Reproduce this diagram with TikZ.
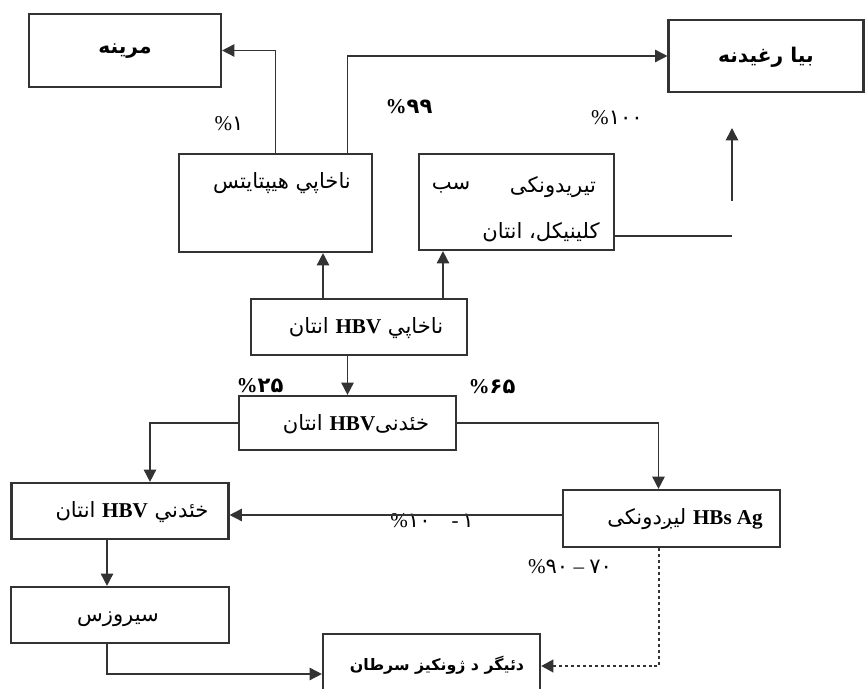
\documentclass[tikz,border=0pt]{standalone}
\usepackage{fontspec}
\setmainfont{Liberation Serif}
\newfontfamily\arabicfont[Script=Arabic]{DejaVu Sans}
\TeXXeTstate=1
\usetikzlibrary{arrows.meta}
\newcommand\upx{0.02cm}
\newcommand\pash[1]{{\arabicfont\beginR #1\endR}}
\newcommand\num[1]{{\arabicfont #1}}
\newcommand\lat[1]{{\rmfamily\bfseries #1}}

\begin{document}
\begin{tikzpicture}[x=\upx, y=-\upx,
        box/.style={draw=black!80, line width=1.2pt, inner sep=0pt},
        txt/.style={inner sep=0pt, font=\large},
        title/.style={inner sep=0pt, font=\fontsize{11.5}{13}\selectfont\bfseries},
        arr/.style={draw=black!80, line width=0.9pt, -{Triangle[length=7pt, width=7pt]}},
        link/.style={draw=black!80, line width=0.9pt},
        dots/.style={arr, line width=1.7pt, dash pattern=on 1.7pt off 1.7pt},
        pct/.style={inner sep=0pt, font=\large}
      ]
        \useasboundingbox (0,0) rectangle (867,689);

        % boxes
        \node[box, minimum width=192*\upx, minimum height=73*\upx] (mrina) at (125,50.5) {};
        \node[title] (mrinaT) at (125,51) {\pash{مرينه}};
        \node[box, minimum width=195*\upx, minimum height=72*\upx] (biya) at (766,56) {};
        \node[title] (biyaT) at (766,57) {\pash{بيا رغيدنه}};
        \node[box, minimum width=193*\upx, minimum height=98*\upx] (hep) at (275.5,203) {};
        \node[txt] (hepT) at (282,183) {\pash{ناخاپي هيپتايتس}};
        \node[box, minimum width=195*\upx, minimum height=96*\upx] (sub) at (516.5,202) {};
        \node[txt] (subA) at (553,187) {\pash{تيريدونکی}};
        \node[txt] (subB) at (451,187) {\pash{سب}};
        \node[txt] (subC) at (541,232) {\pash{کلينيکل، انتان}};
        \node[box, minimum width=216*\upx, minimum height=56*\upx] (acute) at (359,327) {};
        \node[txt] (acuteT) at (366,328) {\pash{ناخاپي \lat{HBV} انتان}};
        \node[box, minimum width=217*\upx, minimum height=54*\upx] (chron) at (347.5,423) {};
        \node[txt] (chronT) at (356,424) {\pash{خئدنی\lat{HBV} انتان}};
        \node[box, minimum width=217*\upx, minimum height=56*\upx] (chronL) at (120,511) {};
        \node[txt] (chronLT) at (132,512) {\pash{خئدني \lat{HBV} انتان}};
        \node[box, minimum width=217*\upx, minimum height=57*\upx] (carrier) at (671.5,518.5) {};
        \node[txt] (carrierT) at (685,519) {\pash{\beginL\lat{HBs Ag}\endL{} ليږدونکی}};
        \node[box, minimum width=218*\upx, minimum height=56*\upx] (cirr) at (120,615) {};
        \node[txt] (cirrT) at (118,619) {\pash{سيروزس}};
        \node[box, minimum width=217*\upx, minimum height=64*\upx] (cancer) at (431.5,666) {};
        \node[txt, font=\small\bfseries] (cancerT) at (437,665) {\pash{دئيگر د ژونکيز سرطان}};

        % percentages
        \node[pct] (p1) at (229,124) {\%\num{۱}};
        \node[pct, font=\large\bfseries] (p99) at (409,107) {\%\num{۹۹}};
        \node[pct] (p100) at (617,118) {\%\num{۱۰۰}};
        \node[pct, font=\large\bfseries] (p25) at (260,386) {\%\num{۲۵}};
        \node[pct, font=\large\bfseries] (p65) at (492,387) {\%\num{۶۵}};
        \node[pct] (p10) at (432,521) {\%\num{۱۰}\quad -\,\num{۱}};
        \node[pct] (p90) at (570,567) {\%\num{۹۰} -- \num{۷۰}};

        % free ends
        \coordinate (bend) at (732,236);
        \coordinate (up0) at (732,201);
        \coordinate (up1) at (732,128);

        % connectors
        \draw[arr] (hep.north) |- (mrina.east);
        \draw[arr] ([xshift=1.44cm]hep.north) |- (biya.west);
        \draw[link] (sub.east |- bend) -- (bend);
        \draw[arr] (up0) -- (up1);
        \draw[arr] ([xshift=-0.72cm]acute.north) coordinate (a1) -- (a1 |- hep.south);
        \draw[arr] ([xshift=1.68cm]acute.north) coordinate (a2) -- (a2 |- sub.south);
        \draw[arr] (acute.south -| chron.north) -- (chron.north);
        \draw[arr] (chron.west) -| ([xshift=0.6cm]chronL.north);
        \draw[arr] (chron.east) -| ([xshift=-0.26cm]carrier.north);
        \draw[arr] ([yshift=0.07cm]carrier.west) -- ([yshift=0.07cm]carrier.west -| chronL.east);
        \draw[arr] ([xshift=-0.26cm]chronL.south) -- ([xshift=-0.26cm]cirr.north);
        \draw[arr] ([xshift=-0.26cm]cirr.south) |- ([yshift=-0.16cm]cancer.west);
        \draw[dots] ([xshift=-0.25cm]carrier.south) |- (cancer.east);

    \end{tikzpicture}
\end{document}
